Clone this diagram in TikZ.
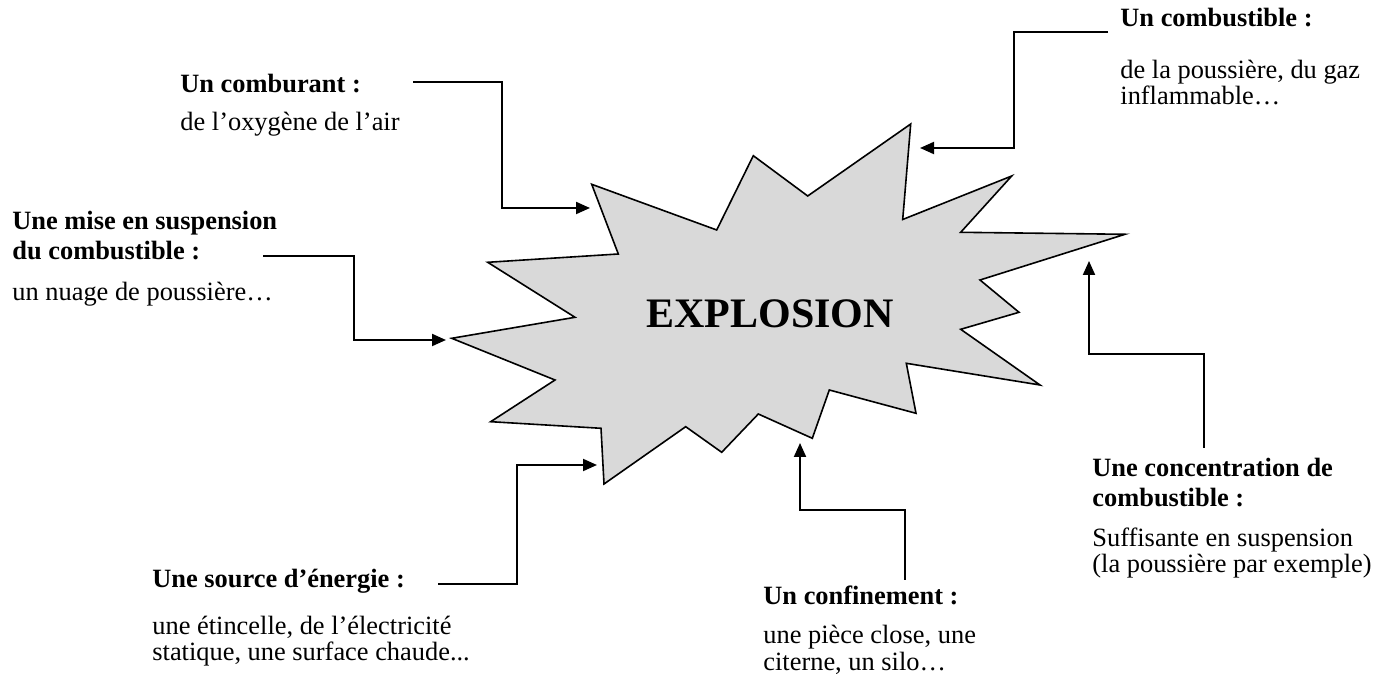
\documentclass[tikz,border=0pt]{standalone}
\usepackage{fontspec}
\setmainfont{Liberation Serif}
\usetikzlibrary{arrows.meta}
\definecolor{grisclair}{HTML}{D9D9D9}

\begin{document}
\begin{tikzpicture}[x=0.5pt,y=-0.5pt,>={Triangle[length=7pt,width=6pt]},
    titre/.style={font=\fontsize{13.2}{15.25}\selectfont\bfseries,anchor=base west,align=left,inner sep=0pt},
    texte/.style={font=\fontsize{13.2}{13.3}\selectfont,anchor=base west,align=left,inner sep=0pt},
    fleche/.style={->,line width=1pt},
    eclat/.style={fill=grisclair,draw=black,line width=0.8pt,line join=miter}]
    \useasboundingbox (0,0) rectangle (1391,688);
    % l'eclat
    \draw[eclat] (591.7,184.3) -- (716.7,230) -- (753.3,155.7) -- (807.7,196) -- (910.7,124)
        -- (902.7,219.5) -- (1011.7,176) -- (960.7,232.3) -- (1125,234.3) -- (980,280)
        -- (1019,312.3) -- (960.7,329.3) -- (1040,385) -- (906.3,363.3) -- (916,413.3)
        -- (829.3,390) -- (812.3,438.3) -- (758.3,414) -- (721.7,452.3) -- (685.7,426.7)
        -- (604,484) -- (601,428.3) -- (490.7,421.7) -- (555,380) -- (451.7,338.3)
        -- (575,317.3) -- (487.7,262.3) -- (618.3,254) -- cycle;
    \node[anchor=base west,inner sep=0pt,font=\fontsize{21}{25}\selectfont\bfseries] (ex) at (646,328) {EXPLOSION};
    % les textes (ancre sur la derniere ligne)
    \node[titre] (t1) at (180,93) {Un comburant :};
    \node[texte] (d1) at (180,131) {de l’oxygène de l’air};
    \node[titre] (t2) at (1120,27) {Un combustible :};
    \node[texte] (d2) at (1120,105) {de la poussière, du gaz\\inflammable…};
    \node[titre] (t3) at (12,260) {Une mise en suspension\\du combustible :};
    \node[texte] (d3) at (12,301) {un nuage de poussière…};
    \node[titre] (t4) at (1092,507) {Une concentration de\\combustible :};
    \node[texte] (d4) at (1092,573) {Suffisante en suspension\\(la poussière par exemple)};
    \node[titre] (t5) at (152,588) {Une source d’énergie :};
    \node[texte] (d5) at (152,661) {une étincelle, de l’électricité\\statique, une surface chaude...};
    \node[titre] (t6) at (763,605) {Un confinement :};
    \node[texte] (d6) at (763,670) {une pièce close, une\\citerne, un silo…};
    % departs et arrivees des fleches
    \coordinate (c1) at (413,82);   \coordinate (a1) at (590,208);
    \coordinate (c2) at (1108,32);  \coordinate (a2) at (920,148);
    \coordinate (c3) at (263,256);  \coordinate (a3) at (446,340);
    \coordinate (c4) at (1204,448); \coordinate (a4) at (1089,261);
    \coordinate (c5) at (438,584);  \coordinate (a5) at (597,465);
    \coordinate (c6) at (905,580);  \coordinate (a6) at (800,443);
    \draw[fleche] (c1) -- ++(89,0) |- (a1);
    \draw[fleche] (c2) -- ++(-94,0) |- (a2);
    \draw[fleche] (c3) -- ++(91,0) |- (a3);
    \draw[fleche] (c4) -- ++(0,-94) -| (a4);
    \draw[fleche] (c5) -- ++(79,0) |- (a5);
    \draw[fleche] (c6) -- ++(0,-70) -| (a6);
\end{tikzpicture}
\end{document}
